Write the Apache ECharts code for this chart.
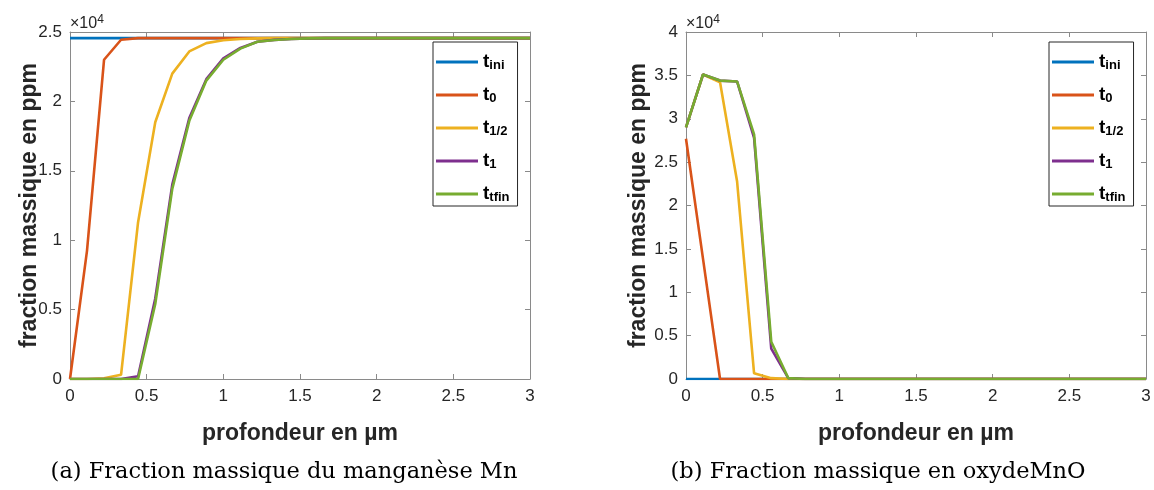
<!DOCTYPE html>
<html>
<head>
<meta charset="utf-8">
<script src="https://cdn.jsdelivr.net/npm/echarts@6/dist/echarts.min.js"></script>
<style>
html,body{margin:0;padding:0;background:#fff;}
#c{width:1154px;height:490px;}
</style>
</head>
<body>
<div id="c"></div>
<script>
// depth in µm (sampling step 1/9 µm)
var depth = [0,0.111,0.222,0.333,0.444,0.556,0.667,0.778,0.889,1.0,1.111,1.222,1.333,1.444,1.556,1.667,1.778,1.889,2.0,2.111,2.222,2.333,2.444,2.556,2.667,2.778,2.889,3.0];
var seriesNames = ['tini','t0','t1/2','t1','ttfin'];
var xTicks = ['0','0.5','1','1.5','2','2.5','3'];

// (a) Mn mass fraction, ppm
var mnTini = [24560,24560,24560,24560,24560,24560,24560,24560,24560,24560,24560,24560,24560,24560,24560,24560,24560,24560,24560,24560,24560,24560,24560,24560,24560,24560,24560,24560];
var mnT0   = [0,9250,23000,24440,24560,24560,24560,24560,24560,24560,24560,24560,24560,24560,24560,24560,24560,24560,24560,24560,24560,24560,24560,24560,24560,24560,24560,24560];
var mnThalf= [0,0,50,300,11300,18500,22000,23600,24200,24400,24500,24540,24560,24560,24560,24560,24560,24560,24560,24560,24560,24560,24560,24560,24560,24560,24560,24560];
var mnT1   = [0,0,0,0,200,5800,14000,18800,21600,23100,23850,24300,24430,24500,24540,24560,24560,24560,24560,24560,24560,24560,24560,24560,24560,24560,24560,24560];
var mnTfin = [0,0,0,0,0,5400,13700,18600,21500,23000,23800,24300,24420,24500,24540,24560,24560,24560,24560,24560,24560,24560,24560,24560,24560,24560,24560,24560];

// (b) MnO mass fraction, ppm
var mnoTini = [0,0,0,0,0,0,0,0,0,0,0,0,0,0,0,0,0,0,0,0,0,0,0,0,0,0,0,0];
var mnoT0   = [27700,13850,0,0,0,0,0,0,0,0,0,0,0,0,0,0,0,0,0,0,0,0,0,0,0,0,0,0];
var mnoThalf= [29000,35100,34200,22800,650,100,0,0,0,0,0,0,0,0,0,0,0,0,0,0,0,0,0,0,0,0,0,0];
var mnoT1   = [29000,35100,34400,34300,27800,3500,100,0,0,0,0,0,0,0,0,0,0,0,0,0,0,0,0,0,0,0,0,0];
var mnoTfin = [29000,35100,34400,34300,28200,4300,100,0,0,0,0,0,0,0,0,0,0,0,0,0,0,0,0,0,0,0,0,0];

var colors = ['#0072BD','#D95319','#EDB120','#7E2F8E','#77AC30'];
var AX = '#8a8a8a', TX = '#262626', SANS = "'Liberation Sans', Arial, sans-serif";

function pairs(ys){ return depth.map(function(x,i){ return [x, ys[i]]; }); }

function xAxes(g){
  return [{
    gridIndex:g, type:'value', min:0, max:3, interval:0.5, position:'bottom',
    axisLine:{show:true,onZero:false,lineStyle:{color:AX,width:1}},
    axisTick:{show:true,inside:true,length:5,lineStyle:{color:AX}},
    axisLabel:{color:TX,fontSize:17,fontFamily:SANS,margin:9,
      formatter:function(v){ return xTicks[Math.round(v/0.5)]; }},
    splitLine:{show:false},
    name:'profondeur en µm', nameLocation:'middle', nameGap:43,
    nameTextStyle:{color:TX,fontSize:23,fontWeight:'bold',fontFamily:SANS}
  },{
    gridIndex:g, type:'value', min:0, max:3, interval:0.5, position:'top',
    axisLine:{show:true,onZero:false,lineStyle:{color:AX,width:1}},
    axisTick:{show:true,inside:true,length:5,lineStyle:{color:AX}},
    axisLabel:{show:false}, splitLine:{show:false}
  }];
}
function yAxes(g,max,gap){
  return [{
    gridIndex:g, type:'value', min:0, max:max, interval:5000, position:'left',
    axisLine:{show:true,onZero:false,lineStyle:{color:AX,width:1}},
    axisTick:{show:true,inside:true,length:5,lineStyle:{color:AX}},
    axisLabel:{color:TX,fontSize:17,fontFamily:SANS,margin:8,
      formatter:function(v){ return String(v/10000); }},
    splitLine:{show:false},
    name:'fraction massique en ppm', nameLocation:'middle', nameGap:gap, nameMoveOverlap:false,
    nameTextStyle:{color:TX,fontSize:23,fontWeight:'bold',fontFamily:SANS}
  },{
    gridIndex:g, type:'value', min:0, max:max, interval:5000, position:'right',
    axisLine:{show:true,onZero:false,lineStyle:{color:AX,width:1}},
    axisTick:{show:true,inside:true,length:5,lineStyle:{color:AX}},
    axisLabel:{show:false}, splitLine:{show:false}
  }];
}

var dataA = [mnTini,mnT0,mnThalf,mnT1,mnTfin];
var dataB = [mnoTini,mnoT0,mnoThalf,mnoT1,mnoTfin];
var series = [];
[dataA,dataB].forEach(function(set,g){
  set.forEach(function(ys,k){
    series.push({
      type:'line', name:seriesNames[k], xAxisIndex:g*2, yAxisIndex:g*2,
      data:pairs(ys), showSymbol:false, symbol:'none', animation:false,
      lineStyle:{color:colors[k],width:2.6}, itemStyle:{color:colors[k]},
      z:2+k
    });
  });
});

function legend(left){
  return {
    orient:'vertical', left:left, top:42, icon:'rect', itemWidth:42, itemHeight:3,
    itemGap:6, padding:[3,8,2,3], selectedMode:false,
    backgroundColor:'#fff', borderColor:'#262626', borderWidth:1,
    data:seriesNames,
    formatter:function(n){ return '{m|t}{s|' + n.slice(1) + '}'; },
    textStyle:{
      rich:{
        m:{fontSize:19,fontWeight:'bold',color:'#000',fontFamily:SANS,lineHeight:20,verticalAlign:'top'},
        s:{fontSize:13,fontWeight:'bold',color:'#000',fontFamily:SANS,lineHeight:12,padding:[14,0,0,0],verticalAlign:'bottom'}
      }
    }
  };
}

function exp(x){
  return {type:'text', left:x, top:9, style:{
    text:'{a|×10}{b|4}',
    rich:{a:{fontSize:16,fill:TX,fontFamily:SANS,lineHeight:18,padding:[7,0,0,0],verticalAlign:'bottom'},
          b:{fontSize:12,fill:TX,fontFamily:SANS,lineHeight:12,verticalAlign:'top'}}
  }};
}

var chart = echarts.init(document.getElementById('c'));
chart.setOption({
  backgroundColor:'#fff',
  animation:false,
  grid:[{left:70,top:32,width:460,height:347},{left:686,top:32,width:460,height:347}],
  xAxis:xAxes(0).concat(xAxes(1)),
  yAxis:yAxes(0,25000,29).concat(yAxes(1,40000,36)),
  legend:[legend(433),legend(1049)],
  series:series,
  graphic:[
    exp(70), exp(686),
    {type:'text', x:284, y:472, style:{text:'(a) Fraction massique du manganèse Mn',
      font:'22.5px "DejaVu Serif", serif', fill:'#000', textAlign:'center', textVerticalAlign:'middle'}},
    {type:'text', x:878, y:472, style:{text:'(b) Fraction massique en oxydeMnO',
      font:'22.5px "DejaVu Serif", serif', fill:'#000', textAlign:'center', textVerticalAlign:'middle'}}
  ]
});
</script>
</body>
</html>
